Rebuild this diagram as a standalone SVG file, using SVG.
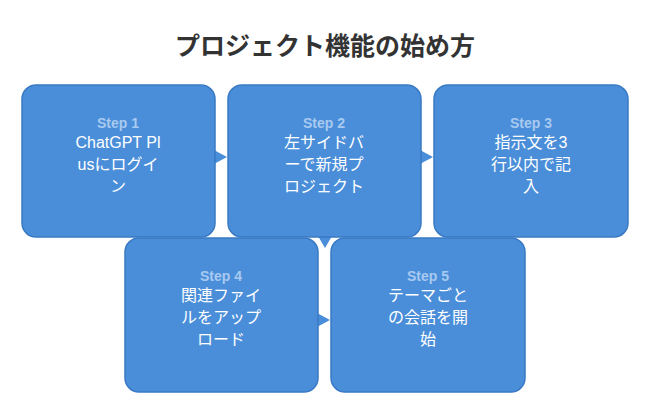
<svg xmlns="http://www.w3.org/2000/svg" width="650" height="415" viewBox="0 0 650 415">
<style>
.box{fill:#4a8ed9;stroke:#3a7ac4;stroke-width:1.5}
.st{font-family:"Liberation Sans","Noto Sans CJK JP",sans-serif;font-size:14px;font-weight:bold;fill:#a8c9f0;text-anchor:middle}
.tx{font-family:"Liberation Sans","Noto Sans CJK JP",sans-serif;font-size:16px;fill:#fff;text-anchor:middle}
.ar{fill:#4a8ed9}
</style>
<rect width="650" height="415" fill="#fff"/>
<text x="325" y="55" text-anchor="middle" font-family="'Noto Sans CJK JP',sans-serif" font-size="25" font-weight="bold" fill="#333">プロジェクト機能の始め方</text>
<g id="connectors">
<polygon class="ar" points="214,150 227,157 214,164"/>
<polygon class="ar" points="420,150 433,157 420,164"/>
<polygon class="ar" points="318,236 332,236 325,248"/>
<polygon class="ar" points="317,313 330,320 317,327"/>
</g>
<g id="step1"><rect class="box" x="22" y="85" width="193" height="152" rx="14"/>
<text class="st" x="118" y="128">Step 1</text>
<text class="tx" x="118" y="148">ChatGPT Pl</text><text class="tx" x="118" y="170">usにログイ</text><text class="tx" x="118" y="192">ン</text></g>
<g id="step2"><rect class="box" x="228" y="85" width="193" height="152" rx="14"/>
<text class="st" x="324" y="128">Step 2</text>
<text class="tx" x="324" y="148">左サイドバ</text><text class="tx" x="324" y="170">ーで新規プ</text><text class="tx" x="324" y="192">ロジェクト</text></g>
<g id="step3"><rect class="box" x="434" y="85" width="194" height="152" rx="14"/>
<text class="st" x="531" y="128">Step 3</text>
<text class="tx" x="531" y="148">指示文を3</text><text class="tx" x="531" y="170">行以内で記</text><text class="tx" x="531" y="192">入</text></g>
<g id="step4"><rect class="box" x="125" y="238" width="193" height="154" rx="14"/>
<text class="st" x="221" y="281">Step 4</text>
<text class="tx" x="221" y="301">関連ファイ</text><text class="tx" x="221" y="323">ルをアップ</text><text class="tx" x="221" y="345">ロード</text></g>
<g id="step5"><rect class="box" x="331" y="238" width="194" height="154" rx="14"/>
<text class="st" x="428" y="281">Step 5</text>
<text class="tx" x="428" y="301">テーマごと</text><text class="tx" x="428" y="323">の会話を開</text><text class="tx" x="428" y="345">始</text></g>
</svg>
